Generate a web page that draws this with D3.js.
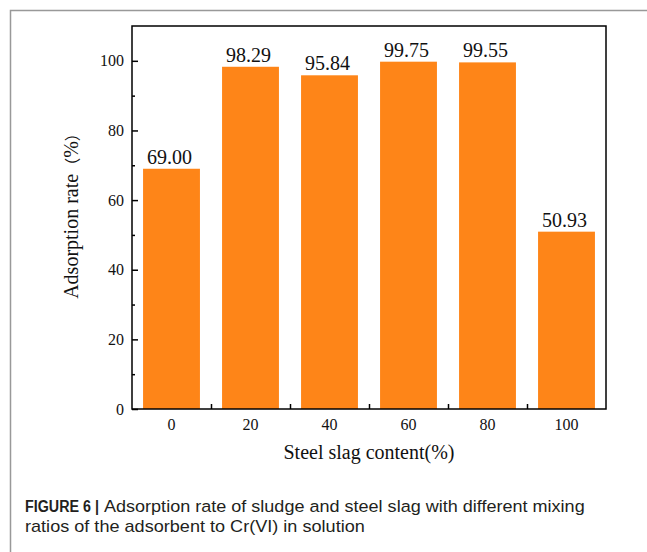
<!DOCTYPE html>
<html>
<head>
<meta charset="utf-8">
<script src="https://cdn.jsdelivr.net/npm/d3@7"></script>
<style>
  html, body { margin: 0; padding: 0; background: #fff; }
  svg { display: block; }
</style>
</head>
<body>
<svg id="chart" width="647" height="552"></svg>
<script>
const categories = ["0", "20", "40", "60", "80", "100"];
const values = [69.00, 98.29, 95.84, 99.75, 99.55, 50.93];
const valueLabels = ["69.00", "98.29", "95.84", "99.75", "99.55", "50.93"];
const yMajorTicks = [0, 20, 40, 60, 80, 100];
const yMinorTicks = [10, 30, 50, 70, 90];
const xTitle = "Steel slag content(%)";
const yTitleMain = "Adsorption rate";
const yTitleUnit = ["（", "%", "）"];
const captionBold = "FIGURE 6 |";
const captionLine1 = "Adsorption rate of sludge and steel slag with different mixing";
const captionLine2 = "ratios of the adsorbent to Cr(VI) in solution";

const svg = d3.select("#chart");
const serif = "'Liberation Serif', 'Times New Roman', Times, serif";
const sans = "'Liberation Sans', Arial, sans-serif";
const cjk = "'Noto Sans CJK SC', 'Liberation Serif', serif";

const L = 132, R = 606, T = 26, B = 409;

svg.append("rect").attr("width", 647).attr("height", 552).attr("fill", "#fff");

// outer frame
svg.append("path")
  .attr("d", "M10.5,552 L10.5,10.5 L647,10.5")
  .attr("fill", "none").attr("stroke", "#999").attr("stroke-width", 1.5);

const x = d3.scaleBand().domain(categories).range([L, R])
  .paddingInner(0.28).paddingOuter(0.14);
const y = d3.scaleLinear().domain([0, 110]).range([B, T]);
const xEdge = d3.scaleLinear().domain([0, categories.length]).range([L, R]);

// bars
svg.append("g").selectAll("rect").data(values).join("rect")
  .attr("x", (d, i) => x(categories[i]))
  .attr("y", d => y(d))
  .attr("width", x.bandwidth())
  .attr("height", d => y(0) - y(d))
  .attr("fill", "#fe8518");

// bar value labels
svg.append("g").selectAll("text").data(values).join("text")
  .attr("x", (d, i) => x(categories[i]) + x.bandwidth() / 2 - 2)
  .attr("y", d => y(d) - 5)
  .attr("text-anchor", "middle")
  .attr("font-family", serif).attr("font-size", 20).attr("fill", "#111")
  .text((d, i) => valueLabels[i]);

// y axis major
const yAxis = svg.append("g").attr("transform", `translate(${L},0)`)
  .call(d3.axisLeft(y).tickValues(yMajorTicks).tickSize(-6).tickPadding(8));
yAxis.select(".domain").remove();
yAxis.selectAll("line").attr("stroke", "#000").attr("stroke-width", 1.5);
yAxis.selectAll("text").attr("font-family", serif).attr("font-size", 16).attr("fill", "#111");

// y axis minor
const yMinor = svg.append("g").attr("transform", `translate(${L},0)`)
  .call(d3.axisLeft(y).tickValues(yMinorTicks).tickSize(-3).tickFormat(""));
yMinor.select(".domain").remove();
yMinor.selectAll("line").attr("stroke", "#000").attr("stroke-width", 1.5);

// x axis labels
const xAxis = svg.append("g").attr("transform", `translate(0,${B})`)
  .call(d3.axisBottom(x).tickSize(0).tickPadding(10));
xAxis.select(".domain").remove();
xAxis.selectAll("text").attr("font-family", serif).attr("font-size", 16).attr("fill", "#111");

// x boundary ticks
const xTicks = svg.append("g").attr("transform", `translate(0,${B})`)
  .call(d3.axisBottom(xEdge).tickValues(d3.range(1, categories.length)).tickSize(-5).tickFormat(""));
xTicks.select(".domain").remove();
xTicks.selectAll("line").attr("stroke", "#000").attr("stroke-width", 1.5);

// plot frame
svg.append("rect")
  .attr("x", L).attr("y", T).attr("width", R - L).attr("height", B - T)
  .attr("fill", "none").attr("stroke", "#000").attr("stroke-width", 1.5);

// axis titles
svg.append("text")
  .attr("x", (L + R) / 2).attr("y", 459)
  .attr("text-anchor", "middle")
  .attr("font-family", serif).attr("font-size", 20).attr("fill", "#111")
  .text(xTitle);

const yt = svg.append("text")
  .attr("transform", "translate(78,212) rotate(-90)")
  .attr("text-anchor", "middle")
  .attr("font-family", serif).attr("font-size", 20).attr("fill", "#111");
yt.append("tspan").text(yTitleMain);
yt.append("tspan").attr("font-family", cjk).attr("font-size", 16).text(yTitleUnit[0]);
yt.append("tspan").text(yTitleUnit[1]);
yt.append("tspan").attr("font-family", cjk).attr("font-size", 16).text(yTitleUnit[2]);

// caption: condensed by horizontal scaling to the measured widths
const capFont = 17;
function fitText(str, x0, y0, width, bold) {
  const t = svg.append("text")
    .attr("font-family", sans).attr("font-size", capFont)
    .attr("font-weight", bold ? "bold" : "normal").attr("fill", "#231f20")
    .text(str);
  const w = t.node().getComputedTextLength();
  t.attr("transform", `translate(${x0},${y0}) scale(${width / w},1)`);
  return t;
}
fitText(captionBold, 25, 512, 74, true);
fitText(captionLine1, 104, 512, 481, false);
fitText(captionLine2, 25, 531.5, 340, false);
</script>
</body>
</html>
